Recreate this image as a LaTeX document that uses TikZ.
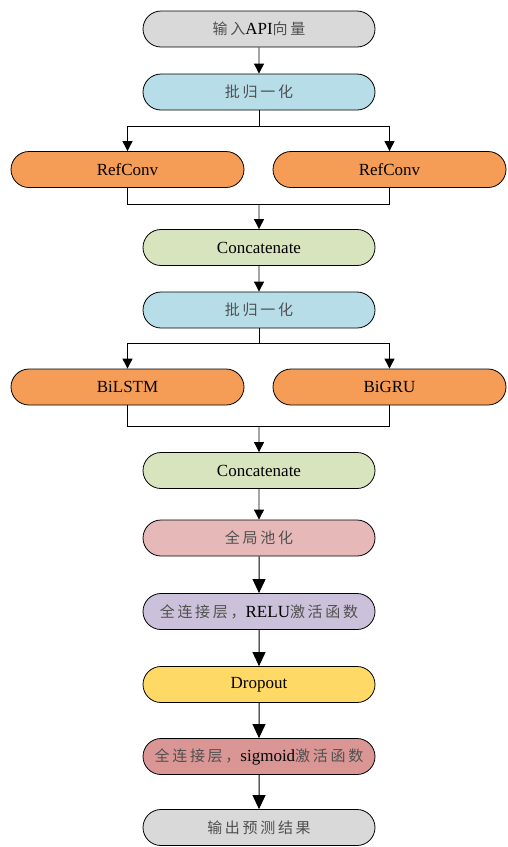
\documentclass[tikz,border=0pt]{standalone}
\usepackage{fontspec}
\setmainfont{Liberation Serif}
\newfontfamily\cjk[LetterSpace=18]{Noto Sans CJK SC}
\usetikzlibrary{positioning, arrows.meta, shapes.misc}
\definecolor{ingray}{HTML}{D9D9D9}
\definecolor{bnblue}{HTML}{B7DDE8}
\definecolor{convorange}{HTML}{F59D56}
\definecolor{catgreen}{HTML}{D7E4BD}
\definecolor{poolpink}{HTML}{E6B9B8}
\definecolor{fcpurple}{HTML}{CCC1DA}
\definecolor{dropyellow}{HTML}{FFD966}
\definecolor{fcred}{HTML}{D99694}
\definecolor{zhgray}{HTML}{505050}
\newcommand{\zh}[1]{{\cjk\fontsize{15}{16}\selectfont\color{zhgray}#1}}

\begin{document}
\begin{tikzpicture}[x=1pt,y=-1pt,
  box/.style={draw, rounded rectangle, line width=0.8pt, minimum width=236pt,
    minimum height=36pt, inner sep=2pt, font=\fontsize{17}{18}\selectfont},
  arr/.style={line width=0.9pt, -{Triangle[length=10pt,width=10pt]}},
  bigarr/.style={line width=1pt, -{Triangle[length=14pt,width=13pt]}},
  lin/.style={line width=0.9pt}]
\useasboundingbox (0,0) rectangle (508,847);
% input and first block
\node[box, fill=ingray] (in) at (259,29) {\zh{输入}API\zh{向量}};
\node[box, fill=bnblue] (bnA) at (259,92) {\zh{批归一化}};
\node[box, fill=convorange, minimum width=237pt] (convL) at (127.5,169.5) {RefConv};
\node[box, fill=convorange, minimum width=237pt] (convR) at (389.5,169.5) {RefConv};
\node[box, fill=catgreen] (catA) at (259,247.5) {Concatenate};
% second block
\node[box, fill=bnblue] (bnB) at (259,310) {\zh{批归一化}};
\node[box, fill=convorange, minimum width=237pt] (lstm) at (127.5,387) {BiLSTM};
\node[box, fill=convorange, minimum width=237pt] (gru) at (389.5,387) {BiGRU};
\node[box, fill=catgreen] (catB) at (259,470.5) {Concatenate};
% head
\node[box, fill=poolpink] (pool) at (259,538) {\zh{全局池化}};
\node[box, fill=fcpurple] (fcA) at (259,611.5) {\zh{全连接层，}RELU\zh{激活函数}};
\node[box, fill=dropyellow] (drop) at (259,684.5) {Dropout};
\node[box, fill=fcred] (fcB) at (259,756.5) {\zh{全连接层，}sigmoid\zh{激活函数}};
\node[box, fill=ingray] (out) at (259,827.5) {\zh{输出预测结果}};

\draw[arr] (in) -- (bnA);
\draw[lin] (bnA.south) -- ++(0,16) coordinate (splitA);
\draw[arr] (splitA) -| (convL.north);
\draw[arr] (splitA) -| (convR.north);
\draw[lin] (convL.south) -- ++(0,17) coordinate (mergeA) -| (convR.south);
\draw[arr] (mergeA -| catA) -- (catA);
\draw[arr] (catA) -- (bnB);
\draw[lin] (bnB.south) -- ++(0,15) coordinate (splitB);
\draw[arr] (splitB) -| (lstm.north);
\draw[arr] (splitB) -| (gru.north);
\draw[lin] (lstm.south) -- ++(0,21) coordinate (mergeB) -| (gru.south);
\draw[arr] (mergeB -| catB) -- (catB);
\draw[arr] (catB) -- (pool);
\draw[bigarr] (pool) -- (fcA);
\draw[bigarr] (fcA) -- (drop);
\draw[bigarr] (drop) -- (fcB);
\draw[bigarr] (fcB) -- (out);
\end{tikzpicture}
\end{document}
